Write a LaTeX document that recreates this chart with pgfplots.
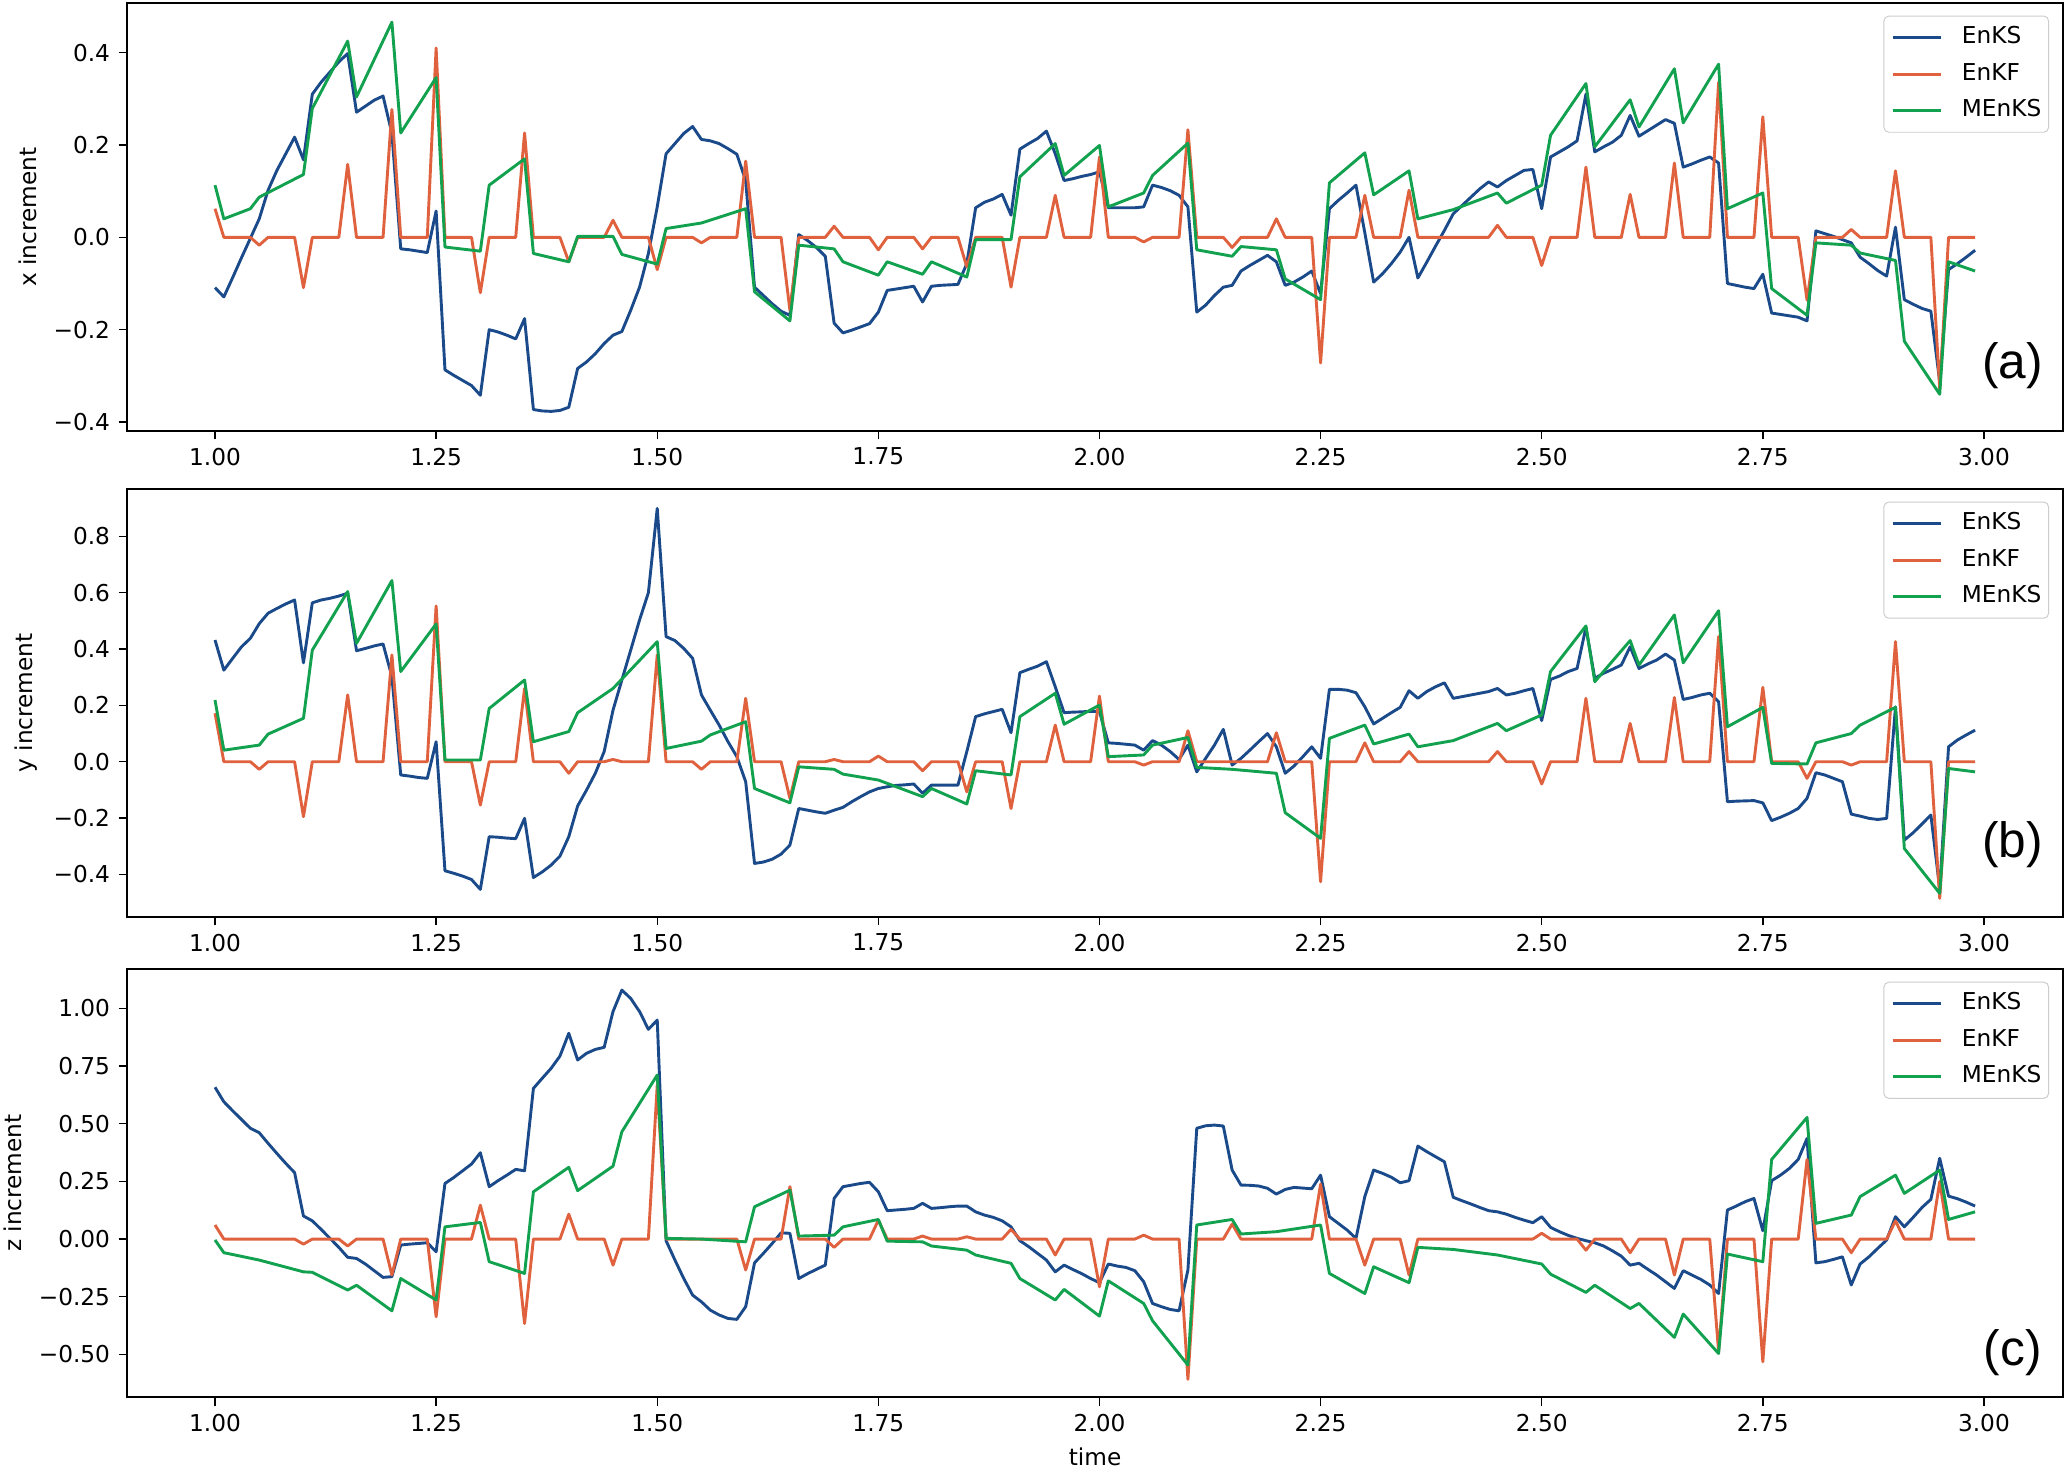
\documentclass[border=0pt]{standalone}
\usepackage{fontspec}
\setmainfont{DejaVu Sans}
\newfontfamily\arialfont{Liberation Sans}
\usepackage{pgfplots}
\pgfplotsset{compat=1.18}
\definecolor{cEnKS}{HTML}{1A4A8A}
\definecolor{cEnKF}{HTML}{E0613E}
\definecolor{cMEnKS}{HTML}{12A14E}
\newcommand{\tf}{\fontsize{9.6}{11.5}\selectfont}
\pgfplotsset{
 panel/.style={
  scale only axis, width=800pt, height=176.86pt,
  anchor=south west,
  xmin=0.9005, xmax=3.0895,
  xtick={1,1.25,1.5,1.75,2,2.25,2.5,2.75,3},
  xticklabels={1.00,1.25,1.50,1.75,2.00,2.25,2.50,2.75,3.00},
  xtick pos=bottom, ytick pos=left,
  tick align=outside, major tick length=3.5pt,
  tick style={black, line width=0.6pt},
  axis line style={line width=0.6pt},
  every tick label/.append style={font=\tf},
  label style={font=\tf},
  legend cell align=left,
  legend style={at={(1,1)}, anchor=north east, xshift=-5.8pt, yshift=-5.2pt,
    draw=black!20, rounded corners=2pt, fill=white, fill opacity=0.8, text opacity=1,
    font=\tf, inner xsep=3pt, inner ysep=4.2pt, row sep=5.7pt,
    nodes={inner sep=0pt, text height=7.2pt, text depth=2.2pt}},
  legend image code/.code={\draw[#1] (0pt,0pt) -- (20pt,0pt); \path (28pt,0pt);},
  every axis plot/.append style={line width=1.2pt, line join=round, mark=none},
 }
}
\begin{document}
\begin{tikzpicture}
% ---------------- (a) ----------------
\begin{axis}[panel, at={(52.48pt,-178.1pt)},
  ymin=-0.4195, ymax=0.5075,
  ytick={-0.4,-0.2,0,0.2,0.4}, yticklabels={−0.4,−0.2,0.0,0.2,0.4},
  ylabel={x increment}]
\addplot[cEnKS] coordinates {
(1.00,-0.109)(1.01,-0.129)(1.02,-0.087)(1.03,-0.044)(1.04,-0.002)(1.05,0.040)(1.06,0.102)(1.07,0.145)(1.08,0.181)(1.09,0.217)
(1.10,0.168)(1.11,0.310)(1.12,0.336)(1.13,0.358)(1.14,0.380)(1.15,0.398)(1.16,0.271)(1.17,0.284)(1.18,0.297)(1.19,0.306)
(1.20,0.225)(1.21,-0.025)(1.22,-0.027)(1.23,-0.030)(1.24,-0.033)(1.25,0.057)(1.26,-0.287)(1.27,-0.299)(1.28,-0.310)(1.29,-0.321)
(1.30,-0.342)(1.31,-0.200)(1.32,-0.205)(1.33,-0.212)(1.34,-0.220)(1.35,-0.176)(1.36,-0.373)(1.37,-0.376)(1.38,-0.377)(1.39,-0.375)
(1.40,-0.368)(1.41,-0.284)(1.42,-0.270)(1.43,-0.252)(1.44,-0.230)(1.45,-0.212)(1.46,-0.204)(1.47,-0.158)(1.48,-0.108)(1.49,-0.035)
(1.50,0.066)(1.51,0.181)(1.52,0.203)(1.53,0.225)(1.54,0.240)(1.55,0.212)(1.56,0.209)(1.57,0.203)(1.58,0.192)(1.59,0.180)
(1.60,0.123)(1.61,-0.108)(1.62,-0.126)(1.63,-0.144)(1.64,-0.160)(1.65,-0.169)(1.66,0.006)(1.67,-0.007)(1.68,-0.022)(1.69,-0.041)
(1.70,-0.186)(1.71,-0.207)(1.72,-0.201)(1.73,-0.194)(1.74,-0.187)(1.75,-0.162)(1.76,-0.115)(1.77,-0.112)(1.78,-0.109)(1.79,-0.106)
(1.80,-0.140)(1.81,-0.106)(1.82,-0.104)(1.83,-0.103)(1.84,-0.102)(1.85,-0.057)(1.86,0.064)(1.87,0.076)(1.88,0.083)(1.89,0.093)
(1.90,0.048)(1.91,0.191)(1.92,0.203)(1.93,0.214)(1.94,0.230)(1.95,0.181)(1.96,0.123)(1.97,0.127)(1.98,0.132)(1.99,0.136)
(2.00,0.142)(2.01,0.064)(2.02,0.064)(2.03,0.064)(2.04,0.064)(2.05,0.066)(2.06,0.113)(2.07,0.108)(2.08,0.101)(2.09,0.091)
(2.10,0.066)(2.11,-0.162)(2.12,-0.147)(2.13,-0.126)(2.14,-0.108)(2.15,-0.104)(2.16,-0.073)(2.17,-0.061)(2.18,-0.050)(2.19,-0.039)
(2.20,-0.053)(2.21,-0.104)(2.22,-0.097)(2.23,-0.086)(2.24,-0.073)(2.25,-0.122)(2.26,0.062)(2.27,0.080)(2.28,0.096)(2.29,0.113)
(2.30,0.010)(2.31,-0.097)(2.32,-0.079)(2.33,-0.057)(2.34,-0.032)(2.35,0.000)(2.36,-0.088)(2.37,-0.054)(2.38,-0.019)(2.39,0.015)
(2.40,0.051)(2.41,0.069)(2.42,0.087)(2.43,0.105)(2.44,0.120)(2.45,0.109)(2.46,0.123)(2.47,0.134)(2.48,0.145)(2.49,0.147)
(2.50,0.062)(2.51,0.174)(2.52,0.185)(2.53,0.196)(2.54,0.209)(2.55,0.310)(2.56,0.185)(2.57,0.196)(2.58,0.206)(2.59,0.221)
(2.60,0.264)(2.61,0.219)(2.62,0.231)(2.63,0.243)(2.64,0.255)(2.65,0.247)(2.66,0.152)(2.67,0.159)(2.68,0.167)(2.69,0.174)
(2.70,0.161)(2.71,-0.100)(2.72,-0.104)(2.73,-0.108)(2.74,-0.111)(2.75,-0.080)(2.76,-0.164)(2.77,-0.167)(2.78,-0.170)(2.79,-0.173)
(2.80,-0.181)(2.81,0.014)(2.82,0.008)(2.83,0.002)(2.84,-0.005)(2.85,-0.012)(2.86,-0.043)(2.87,-0.057)(2.88,-0.072)(2.89,-0.084)
(2.90,0.022)(2.91,-0.135)(2.92,-0.145)(2.93,-0.154)(2.94,-0.160)(2.95,-0.313)(2.96,-0.070)(2.97,-0.057)(2.98,-0.043)(2.99,-0.028)
};
\addlegendentry{EnKS}
\addplot[cEnKF] coordinates {
(1.00,0.062)(1.01,0)(1.04,0)(1.05,-0.017)(1.06,0)(1.09,0)(1.10,-0.109)(1.11,0)(1.14,0)(1.15,0.158)(1.16,0)(1.19,0)(1.20,0.277)(1.21,0)
(1.24,0)(1.25,0.41)(1.26,0)(1.29,0)(1.30,-0.12)(1.31,0)(1.34,0)(1.35,0.226)(1.36,0)(1.39,0)(1.40,-0.053)(1.41,0)(1.44,0)(1.45,0.037)(1.46,0)
(1.49,0)(1.50,-0.07)(1.51,0)(1.54,0)(1.55,-0.012)(1.56,0)(1.59,0)(1.60,0.165)(1.61,0)(1.64,0)(1.65,-0.158)(1.66,0)(1.69,0)(1.70,0.024)(1.71,0)
(1.74,0)(1.75,-0.027)(1.76,0)(1.79,0)(1.80,-0.025)(1.81,0)(1.84,0)(1.85,-0.064)(1.86,0)(1.89,0)(1.90,-0.108)(1.91,0)(1.94,0)(1.95,0.091)(1.96,0)
(1.99,0)(2.00,0.174)(2.01,0)(2.04,0)(2.05,-0.01)(2.06,0)(2.09,0)(2.10,0.233)(2.11,0)(2.14,0)(2.15,-0.022)(2.16,0)(2.19,0)(2.20,0.04)(2.21,0)
(2.24,0)(2.25,-0.272)(2.26,0)(2.29,0)(2.30,0.091)(2.31,0)(2.34,0)(2.35,0.102)(2.36,0)(2.44,0)(2.45,0.026)(2.46,0)
(2.49,0)(2.50,-0.061)(2.51,0)(2.54,0)(2.55,0.152)(2.56,0)(2.59,0)(2.60,0.093)(2.61,0)(2.64,0)(2.65,0.161)(2.66,0)(2.69,0)(2.70,0.336)(2.71,0)
(2.74,0)(2.75,0.261)(2.76,0)(2.79,0)(2.80,-0.136)(2.81,0)(2.84,0)(2.85,0.017)(2.86,0)(2.89,0)(2.90,0.144)(2.91,0)(2.94,0)(2.95,-0.328)(2.96,0)(2.99,0)
};
\addlegendentry{EnKF}
\addplot[cMEnKS] coordinates {
(1.00,0.113)(1.01,0.040)(1.04,0.062)(1.05,0.087)(1.10,0.136)(1.11,0.279)(1.15,0.425)(1.16,0.304)(1.20,0.466)(1.21,0.226)
(1.25,0.346)(1.26,-0.021)(1.30,-0.030)(1.31,0.113)(1.35,0.170)(1.36,-0.035)(1.40,-0.053)(1.41,0.002)(1.45,0.002)(1.46,-0.037)
(1.50,-0.058)(1.51,0.019)(1.55,0.031)(1.60,0.062)(1.61,-0.118)(1.65,-0.181)(1.66,-0.017)(1.70,-0.025)(1.71,-0.053)(1.75,-0.082)
(1.76,-0.053)(1.80,-0.080)(1.81,-0.053)(1.85,-0.086)(1.86,-0.005)(1.90,-0.005)(1.91,0.131)(1.95,0.203)(1.96,0.134)(2.00,0.199)
(2.01,0.066)(2.05,0.096)(2.06,0.134)(2.10,0.204)(2.11,-0.027)(2.15,-0.041)(2.16,-0.020)(2.20,-0.027)(2.21,-0.090)(2.25,-0.135)
(2.26,0.118)(2.30,0.183)(2.31,0.092)(2.35,0.144)(2.36,0.040)(2.40,0.060)(2.45,0.096)(2.46,0.074)(2.50,0.113)(2.51,0.221)
(2.55,0.333)(2.56,0.196)(2.60,0.298)(2.61,0.239)(2.65,0.365)(2.66,0.248)(2.70,0.375)(2.71,0.062)(2.75,0.096)(2.76,-0.111)
(2.80,-0.169)(2.81,-0.012)(2.85,-0.017)(2.86,-0.034)(2.90,-0.050)(2.91,-0.225)(2.95,-0.340)(2.96,-0.053)(2.99,-0.073)
};
\addlegendentry{MEnKS}
\node[font=\arialfont\fontsize{20.5}{24}\selectfont] at (rel axis cs:0.974,0.152) {(a)};
\end{axis}
% ---------------- (b) ----------------
\begin{axis}[panel, at={(52.48pt,-378.9pt)},
  ymin=-0.551, ymax=0.968,
  ytick={-0.4,-0.2,0,0.2,0.4,0.6,0.8}, yticklabels={−0.4,−0.2,0.0,0.2,0.4,0.6,0.8},
  ylabel={y increment}]
\addplot[cEnKS] coordinates {
(1.00,0.432)(1.01,0.325)(1.02,0.367)(1.03,0.408)(1.04,0.438)(1.05,0.490)(1.06,0.527)(1.07,0.544)(1.08,0.560)(1.09,0.574)
(1.10,0.351)(1.11,0.564)(1.12,0.574)(1.13,0.580)(1.14,0.588)(1.15,0.598)(1.16,0.394)(1.17,0.402)(1.18,0.411)(1.19,0.418)
(1.20,0.302)(1.21,-0.047)(1.22,-0.051)(1.23,-0.056)(1.24,-0.059)(1.25,0.071)(1.26,-0.387)(1.27,-0.396)(1.28,-0.406)(1.29,-0.418)
(1.30,-0.453)(1.31,-0.266)(1.32,-0.268)(1.33,-0.271)(1.34,-0.273)(1.35,-0.201)(1.36,-0.411)(1.37,-0.391)(1.38,-0.367)(1.39,-0.335)
(1.40,-0.266)(1.41,-0.157)(1.42,-0.101)(1.43,-0.041)(1.44,0.036)(1.45,0.183)(1.46,0.290)(1.47,0.396)(1.48,0.503)(1.49,0.600)
(1.50,0.899)(1.51,0.444)(1.52,0.430)(1.53,0.402)(1.54,0.367)(1.55,0.237)(1.56,0.183)(1.57,0.130)(1.58,0.071)(1.59,0.018)
(1.60,-0.071)(1.61,-0.361)(1.62,-0.356)(1.63,-0.346)(1.64,-0.328)(1.65,-0.296)(1.66,-0.166)(1.67,-0.172)(1.68,-0.178)(1.69,-0.183)
(1.70,-0.172)(1.71,-0.162)(1.72,-0.142)(1.73,-0.124)(1.74,-0.107)(1.75,-0.095)(1.76,-0.089)(1.77,-0.084)(1.78,-0.082)(1.79,-0.079)
(1.80,-0.112)(1.81,-0.083)(1.82,-0.083)(1.83,-0.083)(1.84,-0.083)(1.85,0.036)(1.86,0.160)(1.87,0.170)(1.88,0.178)(1.89,0.186)
(1.90,0.103)(1.91,0.316)(1.92,0.328)(1.93,0.339)(1.94,0.355)(1.95,0.266)(1.96,0.174)(1.97,0.176)(1.98,0.177)(1.99,0.179)
(2.00,0.178)(2.01,0.067)(2.02,0.065)(2.03,0.062)(2.04,0.059)(2.05,0.041)(2.06,0.075)(2.07,0.059)(2.08,0.036)(2.09,0.008)
(2.10,0.059)(2.11,-0.036)(2.12,0.012)(2.13,0.059)(2.14,0.115)(2.15,-0.012)(2.16,0.012)(2.17,0.041)(2.18,0.071)(2.19,0.100)
(2.20,0.053)(2.21,-0.041)(2.22,-0.015)(2.23,0.018)(2.24,0.053)(2.25,0.012)(2.26,0.257)(2.27,0.257)(2.28,0.254)(2.29,0.245)
(2.30,0.195)(2.31,0.134)(2.32,0.154)(2.33,0.174)(2.34,0.193)(2.35,0.252)(2.36,0.225)(2.37,0.249)(2.38,0.266)(2.39,0.280)
(2.40,0.225)(2.41,0.231)(2.42,0.237)(2.43,0.243)(2.44,0.249)(2.45,0.260)(2.46,0.237)(2.47,0.243)(2.48,0.252)(2.49,0.260)
(2.50,0.146)(2.51,0.292)(2.52,0.304)(2.53,0.320)(2.54,0.331)(2.55,0.477)(2.56,0.296)(2.57,0.314)(2.58,0.328)(2.59,0.343)
(2.60,0.408)(2.61,0.331)(2.62,0.347)(2.63,0.361)(2.64,0.382)(2.65,0.361)(2.66,0.221)(2.67,0.228)(2.68,0.237)(2.69,0.243)
(2.70,0.213)(2.71,-0.142)(2.72,-0.140)(2.73,-0.139)(2.74,-0.138)(2.75,-0.146)(2.76,-0.209)(2.77,-0.197)(2.78,-0.183)(2.79,-0.166)
(2.80,-0.130)(2.81,-0.039)(2.82,-0.047)(2.83,-0.059)(2.84,-0.071)(2.85,-0.186)(2.86,-0.193)(2.87,-0.201)(2.88,-0.205)(2.89,-0.201)
(2.90,0.195)(2.91,-0.278)(2.92,-0.252)(2.93,-0.221)(2.94,-0.189)(2.95,-0.450)(2.96,0.053)(2.97,0.077)(2.98,0.095)(2.99,0.112)
};
\addlegendentry{EnKS}
\addplot[cEnKF] coordinates {
(1.00,0.172)(1.01,0)(1.04,0)(1.05,-0.027)(1.06,0)(1.09,0)(1.10,-0.195)(1.11,0)(1.14,0)(1.15,0.237)(1.16,0)(1.19,0)(1.20,0.379)(1.21,0)
(1.24,0)(1.25,0.553)(1.26,0)(1.29,0)(1.30,-0.154)(1.31,0)(1.34,0)(1.35,0.26)(1.36,0)(1.39,0)(1.40,-0.041)(1.41,0)(1.44,0)(1.45,0.008)(1.46,0)
(1.49,0)(1.50,0.379)(1.51,0)(1.54,0)(1.55,-0.027)(1.56,0)(1.59,0)(1.60,0.225)(1.61,0)(1.64,0)(1.65,-0.13)(1.66,0)(1.69,0)(1.70,0.008)(1.71,0)
(1.74,0)(1.75,0.02)(1.76,0)(1.79,0)(1.80,-0.032)(1.81,0)(1.84,0)(1.85,-0.107)(1.86,0)(1.89,0)(1.90,-0.166)(1.91,0)(1.94,0)(1.95,0.13)(1.96,0)
(1.99,0)(2.00,0.233)(2.01,0)(2.04,0)(2.05,-0.012)(2.06,0)(2.09,0)(2.10,0.11)(2.11,0)(2.19,0)(2.20,0.103)(2.21,0)
(2.24,0)(2.25,-0.426)(2.26,0)(2.29,0)(2.30,0.067)(2.31,0)(2.34,0)(2.35,0.036)(2.36,0)(2.44,0)(2.45,0.036)(2.46,0)
(2.49,0)(2.50,-0.079)(2.51,0)(2.54,0)(2.55,0.225)(2.56,0)(2.59,0)(2.60,0.136)(2.61,0)(2.64,0)(2.65,0.228)(2.66,0)(2.69,0)(2.70,0.444)(2.71,0)
(2.74,0)(2.75,0.264)(2.76,0)(2.79,0)(2.80,-0.059)(2.81,0)(2.84,0)(2.85,-0.012)(2.86,0)(2.89,0)(2.90,0.426)(2.91,0)(2.94,0)(2.95,-0.485)(2.96,0)(2.99,0)
};
\addlegendentry{EnKF}
\addplot[cMEnKS] coordinates {
(1.00,0.219)(1.01,0.041)(1.05,0.059)(1.06,0.098)(1.10,0.154)(1.11,0.396)(1.15,0.604)(1.16,0.420)(1.20,0.643)(1.21,0.320)
(1.25,0.489)(1.26,0.006)(1.30,0.006)(1.31,0.189)(1.35,0.290)(1.36,0.071)(1.40,0.107)(1.41,0.174)(1.45,0.260)(1.50,0.426)
(1.51,0.047)(1.55,0.073)(1.56,0.095)(1.60,0.142)(1.61,-0.095)(1.65,-0.146)(1.66,-0.018)(1.70,-0.027)(1.71,-0.044)(1.75,-0.065)
(1.80,-0.124)(1.81,-0.095)(1.85,-0.150)(1.86,-0.032)(1.90,-0.047)(1.91,0.160)(1.95,0.243)(1.96,0.133)(2.00,0.201)(2.01,0.018)
(2.05,0.024)(2.06,0.059)(2.10,0.086)(2.11,-0.020)(2.15,-0.027)(2.20,-0.041)(2.21,-0.181)(2.25,-0.272)(2.26,0.083)(2.30,0.130)
(2.31,0.063)(2.35,0.098)(2.36,0.053)(2.40,0.075)(2.45,0.136)(2.46,0.110)(2.50,0.166)(2.51,0.320)(2.55,0.482)(2.56,0.284)
(2.60,0.430)(2.61,0.343)(2.65,0.521)(2.66,0.351)(2.70,0.536)(2.71,0.124)(2.75,0.193)(2.76,-0.006)(2.80,-0.008)(2.81,0.067)
(2.85,0.100)(2.86,0.130)(2.90,0.193)(2.91,-0.308)(2.95,-0.467)(2.96,-0.024)(2.99,-0.036)
};
\addlegendentry{MEnKS}
\node[font=\arialfont\fontsize{20.5}{24}\selectfont] at (rel axis cs:0.974,0.168) {(b)};
\end{axis}
% ---------------- (c) ----------------
\begin{axis}[panel, at={(52.48pt,-577.3pt)},
  ymin=-0.685, ymax=1.170,
  ytick={-0.5,-0.25,0,0.25,0.5,0.75,1}, yticklabels={−0.50,−0.25,0.00,0.25,0.50,0.75,1.00},
  ylabel={z increment}, xlabel={time}]
\addplot[cEnKS] coordinates {
(1.00,0.658)(1.01,0.595)(1.02,0.556)(1.03,0.518)(1.04,0.480)(1.05,0.461)(1.06,0.415)(1.07,0.371)(1.08,0.328)(1.09,0.288)
(1.10,0.100)(1.11,0.079)(1.12,0.042)(1.13,0.003)(1.14,-0.036)(1.15,-0.079)(1.16,-0.084)(1.17,-0.108)(1.18,-0.137)(1.19,-0.166)
(1.20,-0.163)(1.21,-0.026)(1.22,-0.022)(1.23,-0.019)(1.24,-0.016)(1.25,-0.055)(1.26,0.241)(1.27,0.267)(1.28,0.296)(1.29,0.325)
(1.30,0.374)(1.31,0.227)(1.32,0.253)(1.33,0.277)(1.34,0.302)(1.35,0.296)(1.36,0.653)(1.37,0.697)(1.38,0.740)(1.39,0.793)
(1.40,0.892)(1.41,0.776)(1.42,0.805)(1.43,0.822)(1.44,0.831)(1.45,0.986)(1.46,1.079)(1.47,1.043)(1.48,0.986)(1.49,0.909)
(1.50,0.949)(1.51,-0.007)(1.52,-0.091)(1.53,-0.171)(1.54,-0.243)(1.55,-0.272)(1.56,-0.308)(1.57,-0.329)(1.58,-0.344)(1.59,-0.348)
(1.60,-0.293)(1.61,-0.103)(1.62,-0.062)(1.63,-0.019)(1.64,0.027)(1.65,0.025)(1.66,-0.171)(1.67,-0.150)(1.68,-0.131)(1.69,-0.113)
(1.70,0.176)(1.71,0.227)(1.72,0.234)(1.73,0.241)(1.74,0.246)(1.75,0.205)(1.76,0.123)(1.77,0.126)(1.78,0.129)(1.79,0.133)
(1.80,0.155)(1.81,0.133)(1.82,0.136)(1.83,0.140)(1.84,0.143)(1.85,0.143)(1.86,0.118)(1.87,0.104)(1.88,0.094)(1.89,0.079)
(1.90,0.053)(1.91,-0.007)(1.92,-0.033)(1.93,-0.062)(1.94,-0.091)(1.95,-0.142)(1.96,-0.113)(1.97,-0.132)(1.98,-0.150)(1.99,-0.171)
(2.00,-0.189)(2.01,-0.108)(2.02,-0.117)(2.03,-0.123)(2.04,-0.137)(2.05,-0.185)(2.06,-0.279)(2.07,-0.293)(2.08,-0.305)(2.09,-0.311)
(2.10,-0.134)(2.11,0.480)(2.12,0.491)(2.13,0.494)(2.14,0.490)(2.15,0.299)(2.16,0.234)(2.17,0.233)(2.18,0.230)(2.19,0.220)
(2.20,0.195)(2.21,0.215)(2.22,0.224)(2.23,0.221)(2.24,0.218)(2.25,0.277)(2.26,0.097)(2.27,0.068)(2.28,0.039)(2.29,0.003)
(2.30,0.184)(2.31,0.299)(2.32,0.285)(2.33,0.268)(2.34,0.244)(2.35,0.253)(2.36,0.403)(2.37,0.379)(2.38,0.357)(2.39,0.335)
(2.40,0.181)(2.41,0.166)(2.42,0.152)(2.43,0.137)(2.44,0.123)(2.45,0.118)(2.46,0.108)(2.47,0.094)(2.48,0.082)(2.49,0.071)
(2.50,0.097)(2.51,0.051)(2.52,0.032)(2.53,0.016)(2.54,0.003)(2.55,-0.007)(2.56,-0.016)(2.57,-0.030)(2.58,-0.051)(2.59,-0.074)
(2.60,-0.113)(2.61,-0.105)(2.62,-0.131)(2.63,-0.156)(2.64,-0.185)(2.65,-0.214)(2.66,-0.137)(2.67,-0.156)(2.68,-0.175)(2.69,-0.199)
(2.70,-0.236)(2.71,0.126)(2.72,0.143)(2.73,0.162)(2.74,0.176)(2.75,0.036)(2.76,0.253)(2.77,0.277)(2.78,0.306)(2.79,0.345)
(2.80,0.436)(2.81,-0.103)(2.82,-0.098)(2.83,-0.088)(2.84,-0.077)(2.85,-0.199)(2.86,-0.108)(2.87,-0.077)(2.88,-0.040)(2.89,-0.004)
(2.90,0.097)(2.91,0.053)(2.92,0.094)(2.93,0.137)(2.94,0.172)(2.95,0.350)(2.96,0.186)(2.97,0.175)(2.98,0.160)(2.99,0.143)
};
\addlegendentry{EnKS}
\addplot[cEnKF] coordinates {
(1.00,0.061)(1.01,0)(1.09,0)(1.10,-0.022)(1.11,0)(1.14,0)(1.15,-0.03)(1.16,0)(1.19,0)(1.20,-0.156)(1.21,0)
(1.24,0)(1.25,-0.337)(1.26,0)(1.29,0)(1.30,0.147)(1.31,0)(1.34,0)(1.35,-0.366)(1.36,0)(1.39,0)(1.40,0.108)(1.41,0)(1.44,0)(1.45,-0.113)(1.46,0)
(1.49,0)(1.50,0.668)(1.51,0)(1.59,0)(1.60,-0.134)(1.61,0)(1.64,0)(1.65,0.227)(1.66,0)(1.69,0)(1.70,-0.036)(1.71,0)
(1.74,0)(1.75,0.082)(1.76,0)(1.79,0)(1.80,0.013)(1.81,0)(1.84,0)(1.85,0.01)(1.86,0)(1.89,0)(1.90,0.042)(1.91,0)(1.94,0)(1.95,-0.069)(1.96,0)
(1.99,0)(2.00,-0.207)(2.01,0)(2.04,0)(2.05,0.017)(2.06,0)(2.09,0)(2.10,-0.608)(2.11,0)(2.14,0)(2.15,0.065)(2.16,0)
(2.24,0)(2.25,0.238)(2.26,0)(2.29,0)(2.30,-0.113)(2.31,0)(2.34,0)(2.35,-0.156)(2.36,0)
(2.49,0)(2.50,0.025)(2.51,0)(2.54,0)(2.55,-0.048)(2.56,0)(2.59,0)(2.60,-0.059)(2.61,0)(2.64,0)(2.65,-0.156)(2.66,0)(2.69,0)(2.70,-0.488)(2.71,0)
(2.74,0)(2.75,-0.532)(2.76,0)(2.79,0)(2.80,0.345)(2.81,0)(2.84,0)(2.85,-0.059)(2.86,0)(2.89,0)(2.90,0.079)(2.91,0)(2.94,0)(2.95,0.249)(2.96,0)(2.99,0)
};
\addlegendentry{EnKF}
\addplot[cMEnKS] coordinates {
(1.00,-0.004)(1.01,-0.059)(1.05,-0.091)(1.10,-0.142)(1.11,-0.144)(1.15,-0.221)(1.16,-0.200)(1.20,-0.311)(1.21,-0.171)(1.25,-0.264)
(1.26,0.053)(1.30,0.072)(1.31,-0.098)(1.35,-0.149)(1.36,0.205)(1.40,0.311)(1.41,0.210)(1.45,0.316)(1.46,0.465)(1.50,0.711)
(1.51,0.003)(1.55,0.000)(1.60,-0.012)(1.61,0.140)(1.65,0.212)(1.66,0.013)(1.70,0.017)(1.71,0.053)(1.75,0.085)(1.76,-0.009)
(1.80,-0.012)(1.81,-0.030)(1.85,-0.048)(1.86,-0.069)(1.90,-0.105)(1.91,-0.171)(1.95,-0.264)(1.96,-0.218)(2.00,-0.334)(2.01,-0.181)
(2.05,-0.279)(2.06,-0.354)(2.10,-0.546)(2.11,0.061)(2.15,0.085)(2.16,0.022)(2.20,0.032)(2.25,0.061)(2.26,-0.149)(2.30,-0.236)
(2.31,-0.120)(2.35,-0.189)(2.36,-0.036)(2.40,-0.045)(2.45,-0.069)(2.50,-0.108)(2.51,-0.152)(2.55,-0.231)(2.56,-0.200)(2.60,-0.301)
(2.61,-0.279)(2.65,-0.426)(2.66,-0.325)(2.70,-0.496)(2.71,-0.065)(2.75,-0.098)(2.76,0.345)(2.80,0.527)(2.81,0.068)(2.85,0.104)
(2.86,0.184)(2.90,0.277)(2.91,0.198)(2.95,0.299)(2.96,0.085)(2.99,0.118)
};
\addlegendentry{MEnKS}
\node[font=\arialfont\fontsize{20.5}{24}\selectfont] at (rel axis cs:0.974,0.105) {(c)};
\end{axis}
\pgfresetboundingbox
\path[use as bounding box] (0pt,0pt) rectangle (854.1pt,-606.6pt);
\end{tikzpicture}
\end{document}
